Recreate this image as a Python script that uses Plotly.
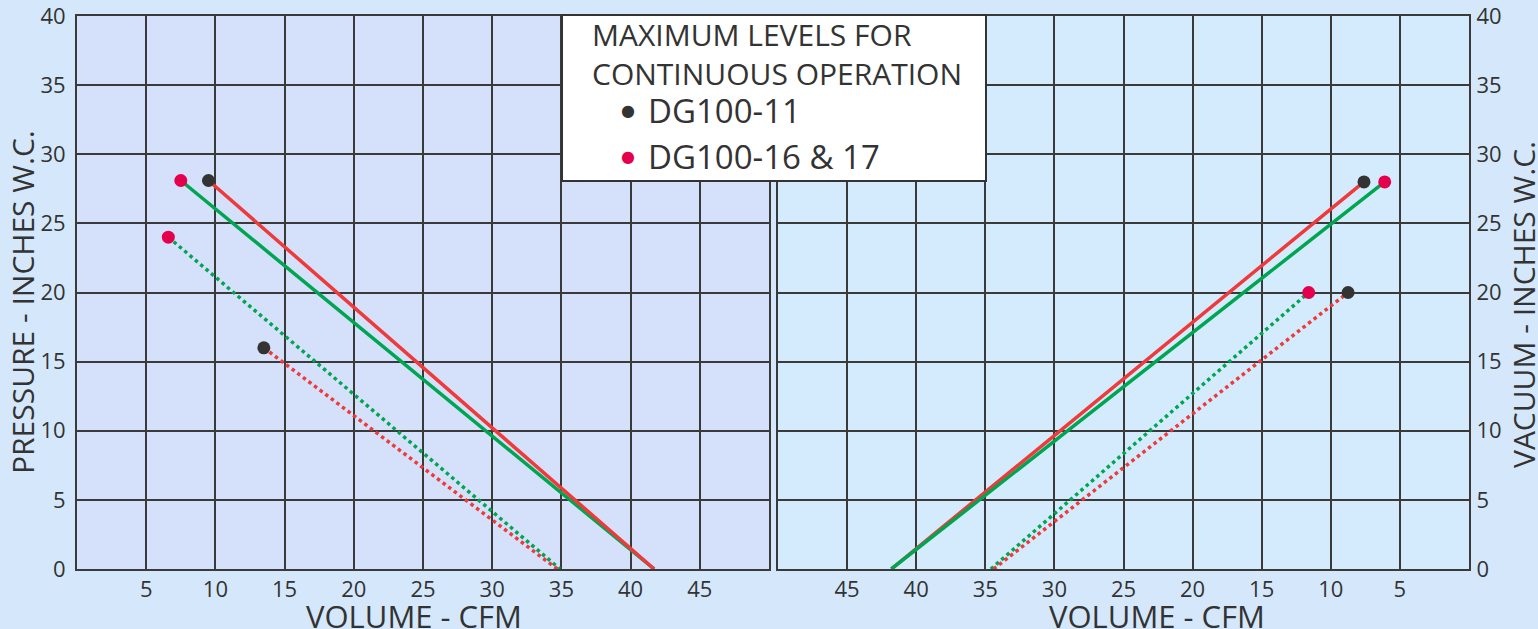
import plotly.graph_objects as go

# ---------------- data ----------------
# Pressure side (left panel)
pr_red_solid_x = [9.5, 41.7]
pr_red_solid_y = [28.1, 0]
pr_green_solid_x = [7.5, 41.7]
pr_green_solid_y = [28.1, 0]
pr_green_dot_x = [6.6, 34.9]
pr_green_dot_y = [24.0, 0]
pr_red_dot_x = [13.5, 34.7]
pr_red_dot_y = [16.0, 0]
pr_dg11_x = [9.5, 13.5]
pr_dg11_y = [28.1, 16.0]
pr_dg16_x = [7.5, 6.6]
pr_dg16_y = [28.1, 24.0]

# Vacuum side (right panel)
va_red_solid_x = [41.8, 7.6]
va_red_solid_y = [0, 28.0]
va_green_solid_x = [41.8, 6.1]
va_green_solid_y = [0, 28.0]
va_green_dot_x = [34.6, 11.6]
va_green_dot_y = [0, 20.0]
va_red_dot_x = [34.4, 8.75]
va_red_dot_y = [0, 20.0]
va_dg11_x = [7.6, 8.75]
va_dg11_y = [28.0, 20.0]
va_dg16_x = [6.1, 11.6]
va_dg16_y = [28.0, 20.0]

x_tick_vals = [5, 10, 15, 20, 25, 30, 35, 40, 45]
y_tick_vals = [0, 5, 10, 15, 20, 25, 30, 35, 40]

x_title = "VOLUME - CFM"
y_title_left = "PRESSURE - INCHES W.C."
y_title_right = "VACUUM - INCHES W.C."
legend_title = "MAXIMUM LEVELS FOR<br>CONTINUOUS OPERATION"
legend_names = ["DG100-11", "DG100-16 & 17"]

# ---------------- style ----------------
RED = "#ee3a3a"
GREEN = "#00a551"
PINK = "#e5004d"
BLACK = "#333333"
TXT = "#333333"
FONT = "Open Sans"
W, H = 1538, 629
ML, MR, MT, MB = 77, 69, 16, 60
PW = W - ML - MR
PH = H - MT - MB

def px2x(px):
    return (px - ML) / PW

def px2y(py):
    return (H - MB - py) / PH

fig = go.Figure()

def line(x, y, color, dash, xa, ya):
    fig.add_trace(go.Scatter(x=x, y=y, mode="lines", xaxis=xa, yaxis=ya,
                             line=dict(color=color, width=3.5, dash=dash),
                             showlegend=False, hoverinfo="skip"))

def pts(x, y, color, xa, ya):
    fig.add_trace(go.Scatter(x=x, y=y, mode="markers", xaxis=xa, yaxis=ya,
                             marker=dict(color=color, size=13),
                             showlegend=False))

line(pr_green_dot_x, pr_green_dot_y, GREEN, "dot", "x", "y")
line(pr_red_dot_x, pr_red_dot_y, RED, "dot", "x", "y")
line(pr_green_solid_x, pr_green_solid_y, GREEN, "solid", "x", "y")
line(pr_red_solid_x, pr_red_solid_y, RED, "solid", "x", "y")
pts(pr_dg11_x, pr_dg11_y, BLACK, "x", "y")
pts(pr_dg16_x, pr_dg16_y, PINK, "x", "y")

line(va_green_dot_x, va_green_dot_y, GREEN, "dot", "x2", "y2")
line(va_red_dot_x, va_red_dot_y, RED, "dot", "x2", "y2")
line(va_red_solid_x, va_red_solid_y, RED, "solid", "x2", "y2")
line(va_green_solid_x, va_green_solid_y, GREEN, "solid", "x2", "y2")
pts(va_dg11_x, va_dg11_y, BLACK, "x2", "y2")
pts(va_dg16_x, va_dg16_y, PINK, "x2", "y2")

axis_common = dict(showline=True, linecolor="#3a3a3a", linewidth=2, mirror=True,
                   showgrid=True, gridcolor="#3a3a3a", gridwidth=1.5,
                   zeroline=False, ticks="", tickfont=dict(family=FONT, size=22, color=TXT),
                   ticklabeloverflow="allow", fixedrange=True)

fig.update_layout(
    width=W, height=H,
    margin=dict(l=ML, r=MR, t=MT, b=MB, autoexpand=False),
    paper_bgcolor="#d5e8fb",
    plot_bgcolor="rgba(0,0,0,0)",
    showlegend=False,
    xaxis=dict(domain=[0, px2x(769)], range=[0, 50], tickvals=x_tick_vals, anchor="y",
               **axis_common),
    yaxis=dict(domain=[0, 1], range=[0, 40], tickvals=y_tick_vals, anchor="x",
               ticklabelstandoff=5, **axis_common),
    xaxis2=dict(domain=[px2x(778), 1], range=[50, 0], tickvals=x_tick_vals, anchor="y2",
                **axis_common),
    yaxis2=dict(domain=[0, 1], range=[0, 40], tickvals=y_tick_vals, anchor="x2", side="right",
                ticklabelstandoff=1, **axis_common),
)

# axis titles
for cx in [414, 1157]:
    fig.add_annotation(xref="paper", yref="paper", x=px2x(cx), y=px2y(616), text=x_title,
                       showarrow=False, xanchor="center", yanchor="middle",
                       font=dict(family=FONT, size=31, color=TXT))
fig.add_annotation(xref="paper", yref="paper", x=px2x(22), y=px2y(302), text=y_title_left,
                   showarrow=False, xanchor="center", yanchor="middle", textangle=-90,
                   font=dict(family=FONT, size=30, color=TXT))
fig.add_annotation(xref="paper", yref="paper", x=px2x(1523), y=px2y(305), text=y_title_right,
                   showarrow=False, xanchor="center", yanchor="middle", textangle=-90,
                   font=dict(family=FONT, size=30, color=TXT))

# plot-area tints
fig.add_shape(type="rect", xref="x domain", yref="y domain", x0=0, x1=1, y0=0, y1=1,
              fillcolor="#d5e0fa", line_width=0, layer="below")
fig.add_shape(type="rect", xref="x2 domain", yref="y2 domain", x0=0, x1=1, y0=0, y1=1,
              fillcolor="#d3ebfd", line_width=0, layer="below")

# legend box
fig.add_shape(type="rect", xref="paper", yref="paper",
              x0=px2x(562), x1=px2x(986), y0=px2y(181), y1=px2y(15),
              fillcolor="white", line=dict(color="#333333", width=2), layer="above")
fig.add_annotation(xref="paper", yref="paper", x=px2x(590), y=px2y(54), text=legend_title,
                   showarrow=False, xanchor="left", yanchor="middle", align="left",
                   font=dict(family=FONT, size=30, color=TXT))
for i, (name, col) in enumerate(zip(legend_names, [BLACK, PINK])):
    cy = 110 + i * 46
    fig.add_annotation(xref="paper", yref="paper", x=px2x(628), y=px2y(cy), text="\u25CF",
                       showarrow=False, xanchor="center", yanchor="middle",
                       font=dict(family="DejaVu Sans", size=16, color=col))
    fig.add_annotation(xref="paper", yref="paper", x=px2x(646), y=px2y(cy), text=name,
                       showarrow=False, xanchor="left", yanchor="middle",
                       font=dict(family=FONT, size=33, color=TXT))

fig.write_html("out.html", config={"displayModeBar": False},
               post_script="document.body.style.margin='0';")
